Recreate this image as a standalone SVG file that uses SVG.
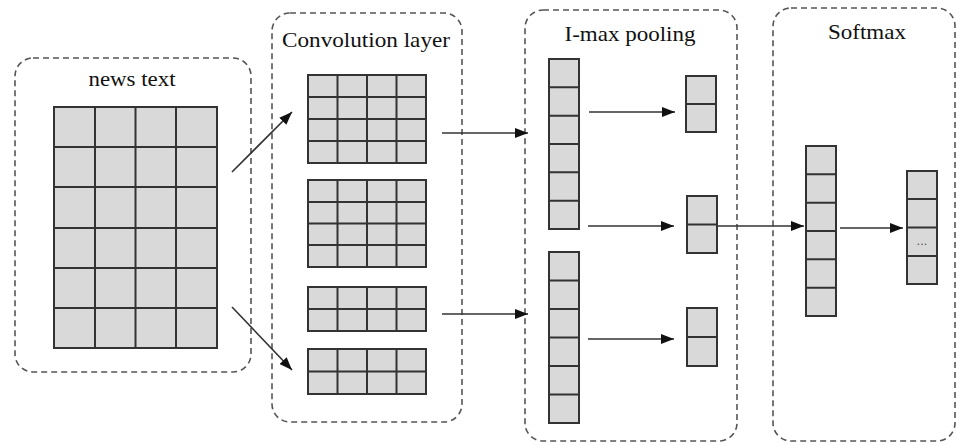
<svg xmlns="http://www.w3.org/2000/svg" width="959" height="444" viewBox="0 0 959 444">
<defs>
<style>
.box{fill:none;stroke:#555;stroke-width:1.6;stroke-dasharray:6 4}
.cell{fill:#d9d9d9;stroke:#333;stroke-width:2}
.ln{fill:none;stroke:#333;stroke-width:2}
.t{font-family:"Liberation Serif","Times New Roman",serif;font-size:21px;fill:#111;text-anchor:middle}
.c{fill:none;stroke:#333;stroke-width:1.6}
</style>
<marker id="ah" markerWidth="13" markerHeight="10" refX="13" refY="5" orient="auto" markerUnits="userSpaceOnUse">
<path d="M0,0 L13,5 L0,10 Z" fill="#111"/>
</marker>
</defs>
<rect width="959" height="444" fill="#fff"/>
<g id="news-text">
<rect class="box" x="15" y="58" width="236" height="314" rx="18"/>
<text class="t" x="132" y="86" textLength="87" lengthAdjust="spacingAndGlyphs">news text</text>
<rect class="cell" x="54" y="107" width="163" height="241"/>
<path class="ln" d="M95,107V348M135.5,107V348M176,107V348M54,147H217M54,187H217M54,228H217M54,268H217M54,308H217"/>
</g>
<g id="convolution-layer">
<rect class="box" x="272" y="13" width="190" height="409" rx="18"/>
<text class="t" x="366" y="47" textLength="168" lengthAdjust="spacingAndGlyphs">Convolution layer</text>
<rect class="cell" x="308" y="75" width="118" height="88"/>
<path class="ln" d="M337.5,75V163M367,75V163M396.5,75V163M308,97H426M308,119H426M308,141H426"/>
<rect class="cell" x="308" y="180" width="118" height="87"/>
<path class="ln" d="M337.5,180V267M367,180V267M396.5,180V267M308,202H426M308,223.5H426M308,245H426"/>
<rect class="cell" x="308" y="287" width="118" height="44"/>
<path class="ln" d="M337.5,287V331M367,287V331M396.5,287V331M308,309H426"/>
<rect class="cell" x="308" y="349" width="118" height="45"/>
<path class="ln" d="M337.5,349V394M367,349V394M396.5,349V394M308,371.5H426"/>
</g>
<g id="max-pooling">
<rect class="box" x="525" y="10" width="212" height="431" rx="18"/>
<text class="t" x="630" y="41" textLength="131" lengthAdjust="spacingAndGlyphs">I-max pooling</text>
<rect class="cell" x="549" y="59" width="30" height="170"/>
<path class="ln" d="M549,87.3H579M549,115.7H579M549,144H579M549,172.3H579M549,200.7H579"/>
<rect class="cell" x="549" y="252" width="30" height="171"/>
<path class="ln" d="M549,280.5H579M549,309H579M549,337.5H579M549,366H579M549,394.5H579"/>
<rect class="cell" x="686" y="76" width="30" height="56"/>
<path class="ln" d="M686,104H716"/>
<rect class="cell" x="687" y="196" width="30" height="57"/>
<path class="ln" d="M687,224.5H717"/>
<rect class="cell" x="687" y="308" width="30" height="58"/>
<path class="ln" d="M687,337H717"/>
</g>
<g id="softmax">
<rect class="box" x="773" y="8" width="182" height="433" rx="18"/>
<text class="t" x="867" y="39" textLength="78" lengthAdjust="spacingAndGlyphs">Softmax</text>
<rect class="cell" x="806" y="146" width="30" height="170"/>
<path class="ln" d="M806,174.3H836M806,202.7H836M806,231H836M806,259.3H836M806,287.7H836"/>
<rect class="cell" x="907" y="171" width="30" height="113"/>
<path class="ln" d="M907,199H937M907,227.5H937M907,256H937"/>
<text x="922" y="245" font-family="Liberation Sans, Arial, sans-serif" font-size="13" fill="#555" text-anchor="middle">...</text>
</g>
<g id="connectors">
<path class="c" d="M232,172L292,112" marker-end="url(#ah)"/>
<path class="c" d="M232,307L292,370" marker-end="url(#ah)"/>
<path class="c" d="M442,133H528" marker-end="url(#ah)"/>
<path class="c" d="M442,314H528" marker-end="url(#ah)"/>
<path class="c" d="M589,112H675" marker-end="url(#ah)"/>
<path class="c" d="M588,226H674" marker-end="url(#ah)"/>
<path class="c" d="M588,339H674" marker-end="url(#ah)"/>
<path class="c" d="M717,226H804" marker-end="url(#ah)"/>
<path class="c" d="M840,228H903" marker-end="url(#ah)"/>
</g>
</svg>
